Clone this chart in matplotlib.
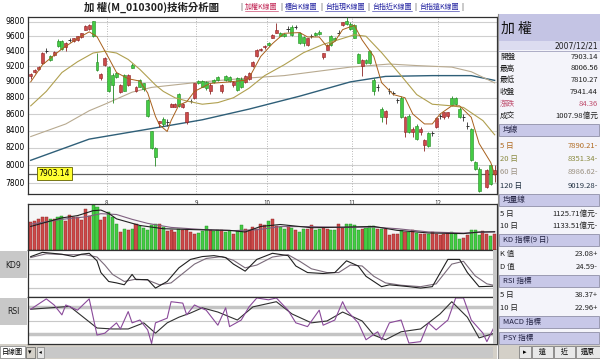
import numpy as np
import matplotlib.pyplot as plt
from matplotlib.patches import Rectangle
from matplotlib.ticker import NullLocator, NullFormatter

plt.rcParams['font.family'] = ['Noto Sans CJK TC', 'DejaVu Sans']

# ---- daily candles (TAIEX, Jul-Dec 2007) ----
opens = [9080, 9130, 9170, 9245, 9395, 9330, 9350, 9540, 9530, 9460,
         9545, 9535, 9550, 9595, 9690, 9700, 9810, 9260, 9055, 9215,
         9185, 9090, 9115, 8875, 9090, 8960, 9220, 8885, 9025, 8980,
         8775, 8390, 8200, 8490, 8540, 8500, 8690, 8690, 8850, 8680,
         8500, 8760, 8800, 9010, 9010, 9000, 8880, 9020, 9060, 8880,
         9070, 9060, 8960, 9050, 9040, 9000, 9040, 9205, 9330, 9410,
         9450, 9510, 9580, 9650, 9640, 9630, 9700, 9730, 9720, 9650,
         9590, 9480, 9600, 9640, 9660, 9320, 9420, 9600, 9580, 9640,
         9750, 9810, 9770, 9760, 9360, 9200, 9280, 9400, 9030, 8930,
         8660, 8560, 8880, 8860, 8770, 8800, 8380, 8580, 8380, 8460,
         8380, 8230, 8370, 8370, 8440, 8570, 8560, 8570, 8800, 8800,
         8660, 8560, 8460, 8420, 8030, 7960, 7620, 7760, 8000, 7903.14]
highs = [9120, 9160, 9200, 9390, 9440, 9350, 9400, 9560, 9550, 9520,
         9580, 9575, 9610, 9650, 9750, 9770, 9815, 9380, 9110, 9320,
         9200, 9110, 9130, 8970, 9100, 9100, 9240, 8950, 9040, 8990,
         8790, 8400, 8210, 8520, 8560, 8540, 8730, 8730, 8860, 8730,
         8630, 8790, 8990, 9030, 9020, 9010, 8980, 9040, 9080, 8970,
         9090, 9080, 9010, 9060, 9060, 9090, 9130, 9270, 9430, 9440,
         9480, 9520, 9630, 9780, 9660, 9650, 9740, 9750, 9750, 9660,
         9600, 9580, 9630, 9660, 9680, 9380, 9490, 9620, 9590, 9680,
         9800, 9860, 9790, 9770, 9380, 9290, 9300, 9410, 9050, 8970,
         8680, 8650, 8920, 8890, 8800, 8820, 8570, 8600, 8440, 8480,
         8440, 8300, 8380, 8400, 8560, 8600, 8630, 8630, 8820, 8810,
         8680, 8600, 8500, 8430, 8050, 7980, 7670, 7960, 8010, 8006.56]
lows = [9040, 9110, 9150, 9230, 9370, 9270, 9330, 9460, 9420, 9400,
        9520, 9520, 9540, 9580, 9680, 9690, 9590, 9140, 9020, 9200,
        8870, 8730, 9050, 8860, 8880, 8950, 9175, 8870, 8930, 8880,
        8560, 8190, 7990, 8440, 8460, 8460, 8680, 8680, 8690, 8670,
        8480, 8730, 8790, 8970, 8930, 8900, 8850, 8990, 9010, 8860,
        9010, 9000, 8940, 8880, 8920, 8990, 9030, 9190, 9320, 9400,
        9430, 9470, 9570, 9640, 9600, 9590, 9660, 9610, 9700, 9500,
        9470, 9470, 9570, 9610, 9620, 9300, 9410, 9470, 9540, 9620,
        9740, 9760, 9690, 9570, 9240, 9080, 9230, 9230, 8830, 8880,
        8500, 8480, 8850, 8830, 8740, 8550, 8330, 8370, 8330, 8290,
        8350, 8160, 8210, 8340, 8430, 8540, 8540, 8550, 8700, 8710,
        8550, 8520, 8420, 8050, 7950, 7700, 7560, 7740, 7780, 7810.27]
closes = [9095, 9150, 9190, 9376, 9405, 9280, 9390, 9475, 9435, 9510,
          9550, 9570, 9600, 9640, 9740, 9760, 9600, 9150, 9100, 9310,
          8880, 8960, 9060, 8960, 8890, 9090, 9180, 8940, 8940, 8910,
          8570, 8200, 8090, 8510, 8475, 8500, 8720, 8720, 8700, 8720,
          8620, 8760, 8980, 8985, 8940, 8920, 8960, 9000, 9020, 8960,
          9020, 9010, 9000, 8900, 8940, 9080, 9120, 9260, 9420, 9430,
          9465, 9480, 9620, 9690, 9610, 9600, 9705, 9620, 9720, 9510,
          9510, 9570, 9600, 9620, 9630, 9370, 9480, 9480, 9550, 9640,
          9790, 9770, 9700, 9580, 9250, 9280, 9240, 9240, 8880, 8930,
          8560, 8640, 8880, 8860, 8770, 8560, 8560, 8380, 8420, 8300,
          8420, 8290, 8220, 8370, 8550, 8570, 8620, 8620, 8710, 8720,
          8560, 8560, 8460, 8060, 7960, 7710, 7660, 7950, 7790, 7941.44]
# turnover, 億元
volume = [1725, 1826, 1930, 2070, 2070, 1930, 1930, 2070, 2130, 1785,
          2190, 2030, 2030, 1870, 2540, 2130, 2800, 2680, 1830, 2030,
          2330, 2030, 1620, 1115, 1320, 1260, 1320, 1580, 1460, 1380,
          1260, 1520, 1580, 1580, 1420, 1180, 1260, 1115, 1320, 1217,
          1217, 1115, 1015, 1055, 1177, 1460, 1217, 1177, 1217, 1217,
          1115, 1177, 1015, 1177, 1520, 1320, 1217, 1420, 1320, 1620,
          1520, 1826, 1930, 1460, 1420, 1320, 1460, 1380, 1217, 1115,
          1320, 1320, 1520, 1260, 1320, 1380, 1320, 1217, 1260, 1620,
          1380, 1620, 1620, 1520, 1260, 1320, 1380, 1460, 1460, 1320,
          1320, 1320, 913, 1015, 1015, 1217, 1115, 1115, 1217, 1055,
          974, 1015, 1015, 1115, 1015, 913, 1015, 1055, 1115, 1015,
          710, 771, 913, 1260, 1260, 913, 1177, 1015, 852, 1008]

# moving averages (candle index, value)
ma5_idx = [0, 3, 8, 12, 15, 17, 20, 22, 25, 28, 30, 32, 33, 35, 36, 38, 40, 42,
           46, 51, 55, 56, 59, 62, 65, 69, 71, 74, 76, 78, 80, 83, 85, 88, 90,
           93, 96, 98, 101, 103, 105, 108, 110, 113, 115, 118, 119]
ma5_val = [9000, 9220, 9430, 9570, 9660, 9595, 9310, 9120, 9040, 9010, 8860,
           8570, 8470, 8390, 8520, 8710, 8750, 8880, 8980, 9000, 9020, 9050,
           9330, 9500, 9640, 9650, 9590, 9590, 9460, 9530, 9690, 9750, 9550,
           9330, 8990, 8840, 8800, 8600, 8480, 8480, 8600, 8700, 8700, 8560,
           8250, 8030, 7890]
ma20_idx = [0, 4, 8, 12, 16, 19, 22, 25, 28, 30, 32, 34, 37, 40, 44, 48, 52, 56,
            60, 65, 70, 75, 80, 83, 86, 90, 95, 99, 103, 108, 111, 116, 119]
ma20_val = [8700, 8880, 9120, 9260, 9375, 9400, 9375, 9290, 9160, 9060, 8960,
            8880, 8800, 8760, 8720, 8740, 8800, 8920, 9080, 9220, 9380, 9490,
            9570, 9620, 9600, 9380, 9080, 8840, 8720, 8700, 8680, 8520, 8351]
ma60_idx = [0, 9, 15, 19, 26, 31, 44, 56, 65, 82, 92, 99, 108, 113, 119]
ma60_val = [8330, 8480, 8640, 8720, 8870, 8930, 9000, 9050, 9080, 9190, 9230,
            9210, 9190, 9130, 8987]
ma120_idx = [0, 15, 31, 44, 56, 69, 82, 91, 103, 113, 119]
ma120_val = [8055, 8300, 8425, 8530, 8660, 8820, 9000, 9070, 9080, 9080, 9019]

vma5_idx = [0, 8, 12, 16, 18, 20, 22, 25, 28, 34, 42, 51, 55, 59, 64, 72, 81,
            88, 94, 102, 111, 115, 119]
vma5_val = [1460, 1990, 2130, 2435, 2475, 2270, 1930, 1725, 1520, 1320, 1260,
            1217, 1115, 1460, 1580, 1380, 1420, 1460, 1217, 1055, 1015, 1115,
            1126]
vma10_idx = [0, 8, 14, 18, 22, 26, 30, 36, 44, 52, 58, 64, 72, 80, 88, 94, 102,
             111, 119]
vma10_val = [1600, 1900, 2050, 2250, 2200, 1900, 1650, 1400, 1270, 1200, 1250,
             1450, 1450, 1400, 1420, 1320, 1120, 1050, 1134]

k_idx = [0, 3, 8, 11, 13, 15, 17, 18, 20, 22, 24, 26, 27, 30, 32, 35, 38, 41,
         44, 47, 50, 52, 55, 58, 62, 66, 68, 71, 75, 78, 81, 84, 86, 90, 92,
         97, 100, 103, 107, 110, 112, 115, 119]
k_val = [86, 95, 91, 86, 91, 93, 77, 52, 33, 30, 26, 48, 37, 37, 19, 33, 62,
         80, 86, 88, 84, 70, 55, 80, 93, 88, 66, 52, 50, 52, 77, 66, 44, 22,
         26, 22, 19, 22, 80, 80, 52, 22, 23.08]
d_idx = [0, 4, 9, 14, 17, 19, 21, 24, 27, 30, 33, 36, 39, 42, 45, 49, 52, 55,
         58, 62, 66, 69, 72, 76, 79, 82, 85, 88, 91, 95, 100, 104, 108, 111,
         114, 117, 119]
d_val = [84, 92, 90, 90, 85, 68, 48, 33, 38, 36, 26, 30, 50, 70, 82, 86, 78,
         62, 68, 85, 90, 76, 60, 52, 52, 68, 66, 44, 30, 25, 22, 28, 70, 76,
         45, 28, 24.59]

rsi5_idx = [0, 4, 6, 8, 9, 12, 15, 17, 19, 22, 23, 25, 26, 28, 30, 31, 32, 35,
            36, 39, 40, 42, 43, 45, 48, 50, 51, 54, 56, 58, 61, 63, 66, 68, 71,
            74, 75, 78, 80, 81, 84, 86, 89, 90, 92, 95, 97, 100, 102, 104, 107,
            109, 111, 113, 116, 117, 119]
rsi5_val = [74, 96, 83, 62, 83, 72, 96, 19, 23, 45, 32, 69, 45, 51, 30, 1, 45,
            55, 90, 87, 62, 83, 79, 72, 40, 77, 37, 51, 79, 98, 94, 98, 72, 45,
            37, 72, 40, 51, 90, 72, 45, 9, 26, 9, 45, 51, 2, 5, 45, 30, 51, 98,
            98, 51, 23, 5, 38.37]
rsi10_idx = [0, 10, 17, 21, 25, 29, 32, 35, 38, 41, 44, 48, 53, 57, 63, 67, 72,
             76, 80, 85, 88, 91, 95, 100, 105, 108, 112, 115, 119]
rsi10_val = [74, 80, 34, 32, 32, 45, 23, 45, 57, 66, 77, 68, 51, 79, 90, 64, 45,
             49, 68, 49, 19, 9, 26, 32, 64, 90, 57, 13, 22.96]

month_labels = ['8', '9', '10', '11', '12']
month_start = [20, 43, 61, 83, 105]
price_ticks = [7800, 8000, 8200, 8400, 8600, 8800, 9000, 9200, 9400, 9600, 9800]
last_open = 7903.14

info_labels = ['開盤', '最高', '最低', '收盤', '漲跌', '成交']
info_values = ['7903.14', '8006.56', '7810.27', '7941.44', '84.36', '1007.98億元']
ma_labels = ['5 日', '20 日', '60 日', '120 日']
ma_values = ['7890.21-', '8351.34-', '8986.62-', '9019.28-']
vol_ma_labels = ['5 日', '10 日']
vol_ma_values = ['1125.71億元-', '1133.51億元-']
kd_labels = ['K 值', 'D 值']
kd_values = ['23.08+', '24.59-']
rsi_labels = ['5 日', '10 日']
rsi_values = ['38.37+', '22.96+']
links = ['加權K線圖', '櫃台K線圖', '台指現K線圖', '台指近K線圖', '台指遠K線圖']

W, H = 600, 359
RED, RED_E = '#cc4a4a', '#8c2222'
GRN, GRN_E = '#44cc44', '#228822'
C_MA5, C_MA20, C_MA60, C_MA120 = '#a8601c', '#b0a050', '#b8aa90', '#2f5f78'

fig = plt.figure(figsize=(W / 100, H / 100), dpi=100)
fig.patch.set_facecolor('white')


def px_axes(x0, y0, x1, y1):
    return fig.add_axes([x0 / W, 1 - y1 / H, (x1 - x0) / W, (y1 - y0) / H])


def frame(ax):
    for s in ax.spines.values():
        s.set_color('#303030')
        s.set_linewidth(0.9)
    ax.xaxis.set_major_locator(NullLocator())
    ax.xaxis.set_minor_locator(NullLocator())
    ax.yaxis.set_major_locator(NullLocator())
    ax.yaxis.set_minor_locator(NullLocator())
    ax.yaxis.set_minor_formatter(NullFormatter())


o = np.array(opens)
h = np.array(highs)
l = np.array(lows)
c = np.array(closes)
x = np.arange(len(c))
up = c >= o
xlim = (-0.7, len(c) - 0.4)

# ---- price panel ----
ax = px_axes(28, 17, 497, 194)
ax.set_yscale('log')
ax.set_ylim(7680, 9865)
ax.set_xlim(*xlim)
frame(ax)
for p in price_ticks:
    ax.axhline(p, color='#cfcfcf', lw=0.8, zorder=0)
    ax.text(-0.006, p, str(p), transform=ax.get_yaxis_transform(),
            ha='right', va='center', fontsize=5.5, family='DejaVu Sans')
for m in month_start:
    ax.axvline(m - 0.5, color='#a0a0a0', lw=0.6, ls=(0, (1, 2)), zorder=0)
ax.axhline(last_open, color='#606060', lw=0.9, zorder=1)
ax.text(2.0, last_open, f'{last_open:.2f}', fontsize=5.5, va='center',
        family='DejaVu Sans', zorder=6,
        bbox=dict(boxstyle='square,pad=0.25', fc='#ffff33', ec='#606000', lw=0.6))

for i in x:
    fc, ec = (RED, RED_E) if up[i] else (GRN, GRN_E)
    if abs(c[i] - o[i]) < 12:
        ec = '#303030'
    ax.vlines(i, l[i], h[i], color=ec, lw=0.6, zorder=3)
    lo, hi = min(o[i], c[i]), max(o[i], c[i])
    if hi - lo < 12:
        ax.hlines(c[i], i - 0.4, i + 0.4, color=ec, lw=0.7, zorder=4)
    else:
        ax.add_patch(Rectangle((i - 0.38, lo), 0.76, hi - lo, fc=fc, ec=ec,
                               lw=0.4, zorder=4))

ax.plot(ma120_idx, ma120_val, color=C_MA120, lw=1.0, zorder=2)
ax.plot(ma60_idx, ma60_val, color=C_MA60, lw=0.8, zorder=2)
ax.plot(ma20_idx, ma20_val, color=C_MA20, lw=0.8, zorder=5)
ax.plot(ma5_idx, ma5_val, color=C_MA5, lw=0.7, zorder=5)

for lab, m in zip(month_labels, month_start):
    ax.text(m - 0.5, -0.028, lab, transform=ax.get_xaxis_transform(),
            ha='center', va='top', fontsize=4.5, color='#333333')

# ---- volume panel ----
av = px_axes(28, 204, 497, 250)
av.set_xlim(*xlim)
av.set_ylim(0, 2850)
frame(av)
av.set_facecolor('#f6f6f6')
av.bar(x, volume, width=0.78, color=[RED if u else GRN for u in up],
       edgecolor=[RED_E if u else GRN_E for u in up], lw=0.3)
av.plot(vma10_idx, vma10_val, color='#806080', lw=0.8)
av.plot(vma5_idx, vma5_val, color='#202020', lw=0.8)

# ---- KD panel ----
ak = px_axes(28, 250, 497, 297)
ak.set_xlim(*xlim)
ak.set_ylim(0, 100)
frame(ak)
for lev in (20, 50, 80):
    ak.axhline(lev, color='#c8c8c8', lw=0.9, zorder=0)
ak.plot(d_idx, d_val, color='#7a6a7a', lw=0.8)
ak.plot(k_idx, k_val, color='#202020', lw=0.8)

# ---- RSI panel ----
ar = px_axes(28, 297, 497, 344)
ar.set_xlim(*xlim)
ar.set_ylim(0, 100)
frame(ar)
for lev in (22, 78):
    ar.axhline(lev, color='#c4c4c4', lw=2.5, zorder=0)
ar.axhline(50, color='#c8c8c8', lw=0.8, zorder=0)
ar.plot(rsi10_idx, rsi10_val, color='#303030', lw=0.8)
ar.plot(rsi5_idx, rsi5_val, color='#8a4a9a', lw=0.8)

# ---- chrome: title, labels, bottom bar, info panel ----
bg = fig.add_axes([0, 0, 1, 1], zorder=-1)
bg.set_xlim(0, W)
bg.set_ylim(H, 0)
bg.axis('off')
fg = fig.add_axes([0, 0, 1, 1], zorder=10)
fg.set_xlim(0, W)
fg.set_ylim(H, 0)
fg.axis('off')

fg.text(152, 7, '加 權(M_010300)技術分析圖', ha='center', va='center',
        fontsize=7.5, weight='bold', color='#202020')

renderer = fig.canvas.get_renderer()
lx = 240
sep = fg.text(lx, 7, '|', fontsize=5, va='center', color='#303030')
lx += 5
for j, lk in enumerate(links):
    col = '#c02050' if j == 0 else '#2020a0'
    t = fg.text(lx, 7, lk, fontsize=5, va='center', color=col)
    wlen = t.get_window_extent(renderer).width
    fg.plot([lx, lx + wlen], [10.8, 10.8], lw=0.4, color=col)
    lx += wlen + 2.5
    fg.text(lx, 7, '|', fontsize=5, va='center', color='#303030')
    lx += 5

for lab, y0 in (('KD9', 251), ('RSI', 298)):
    bg.add_patch(Rectangle((0, y0), 27, 27, fc='#c8c8c8', ec='none'))
    fg.text(13.5, y0 + 14, lab, ha='center', va='center', fontsize=5.5,
            family='DejaVu Sans', color='#202020')

# bottom bar
bg.add_patch(Rectangle((0, 344), 497, 15, fc='#d4d0c8', ec='none'))
fg.add_patch(Rectangle((0, 346), 25, 12, fc='white', ec='#808080', lw=0.5))
fg.text(1.5, 352, '日線圖', fontsize=5, va='center')
fg.add_patch(Rectangle((25.5, 346.5), 9, 11, fc='#d4d0c8', ec='#606060', lw=0.5))
fg.text(30, 352, '▾', fontsize=5, ha='center', va='center', family='DejaVu Sans')
fg.add_patch(Rectangle((37, 346.5), 7, 11, fc='#e4e4e4', ec='#808080', lw=0.5))
fg.text(40.5, 352, '◂', fontsize=4, ha='center', va='center', family='DejaVu Sans')
fg.add_patch(Rectangle((45, 346.5), 448, 11, fc='#c8c8c8', ec='none'))
fg.add_patch(Rectangle((493, 250), 4, 94, fc='#c8c8c8', ec='none'))

# info panel
PX0, PX1 = 498, 600
bg.add_patch(Rectangle((PX0, 14), PX1 - PX0, H - 14, fc='#f4f4fa', ec='none'))
fg.plot([PX0 - 0.5, PX0 - 0.5], [14, H], color='#909090', lw=0.8)
fg.add_patch(Rectangle((PX0, 14), PX1 - PX0, 27, fc='#c4c4e4', ec='none'))
fg.text(501, 29, '加 權', fontsize=10, va='center', color='#101010')
fg.add_patch(Rectangle((PX0, 41), PX1 - PX0, 9, fc='#dcdcf0', ec='none'))
fg.text(598, 46, '2007/12/21', fontsize=5.5, ha='right', va='center',
        family='DejaVu Sans', color='#202020')
fg.plot([PX0, PX1], [50.5, 50.5], color='#9090b0', lw=0.5)


def header(y, text):
    fg.add_patch(Rectangle((PX0 + 1, y - 6), PX1 - PX0 - 2, 12, fc='#c8c8e8',
                           ec='#9090a8', lw=0.6))
    fg.text(PX0 + 5, y, text, fontsize=5.5, va='center', color='#202040')


def rows(ys, labels, values, colors=None):
    for k, (yy, lab, val) in enumerate(zip(ys, labels, values)):
        col = colors[k] if colors else '#202020'
        fg.text(PX0 + 2, yy, lab, fontsize=5.5, va='center', color=col)
        fg.text(598, yy, val, fontsize=5.5, va='center', ha='right', color=col)


rows([57, 68.5, 80, 92, 104, 116], info_labels, info_values,
     ['#202020'] * 4 + ['#c05070', '#202020'])
header(130, '均線')
rows([146, 159, 172, 186], ma_labels, ma_values,
     ['#b06a20', '#8a8a40', '#9a9080', '#203040'])
header(200, '均量線')
rows([214, 226], vol_ma_labels, vol_ma_values)
header(240, 'KD 指標(9 日)')
rows([254, 267], kd_labels, kd_values)
header(281, 'RSI 指標')
rows([295, 308], rsi_labels, rsi_values)
header(322, 'MACD 指標')
header(338, 'PSY 指標')

bg.add_patch(Rectangle((PX0, 345), PX1 - PX0, 14, fc='#d4d0c8', ec='none'))
for bx0, bx1, txt in ((519, 531, '▸'), (532, 553, '遠'), (554, 575, '近'),
                      (576, 600, '還原')):
    fg.add_patch(Rectangle((bx0, 346), bx1 - bx0, 12, fc='#e8e8e8',
                           ec='#707070', lw=0.5))
    fg.text((bx0 + bx1) / 2, 352, txt, fontsize=5, ha='center', va='center',
            family=['Noto Sans CJK TC', 'DejaVu Sans'])

fig.savefig('out.png', dpi=100)
